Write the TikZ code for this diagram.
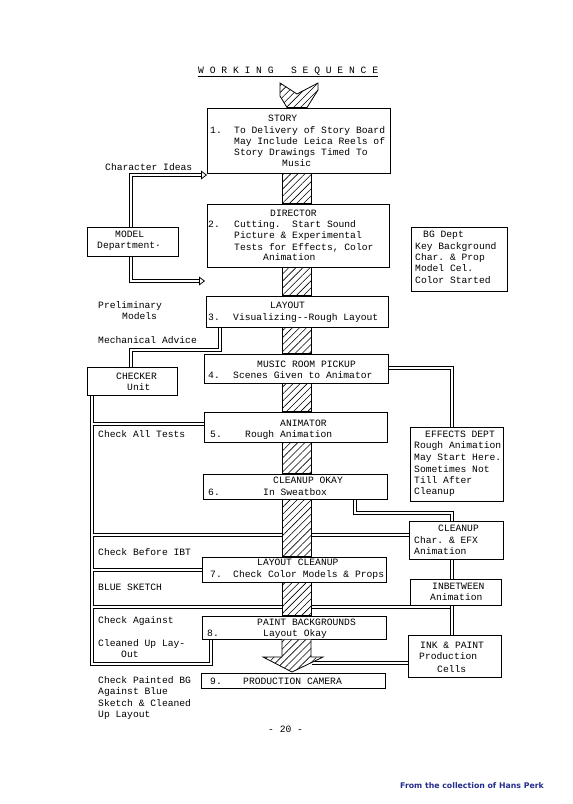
\documentclass[tikz,border=0pt]{standalone}
\usepackage{fontspec}
\setmonofont{Liberation Mono}
\newfontfamily\credfont{DejaVu Sans}
\usetikzlibrary{arrows.meta,patterns.meta}
\definecolor{credblue}{RGB}{35,45,140}
\tikzset{
  box/.style={draw, line width=1pt, fill=white, inner sep=0pt},
  link/.style={draw, double, double distance=2.2pt, line width=0.8pt},
  col/.style={draw, line width=0.8pt, preaction={fill=white},
    pattern={Lines[angle=45,distance=5pt,line width=0.6pt]}},
  txt/.style={font=\ttfamily\fontsize{9.67}{11.3}\selectfont, anchor=base west, inner sep=0pt},
  tip/.style={-{Triangle[open,length=6pt,width=9pt]}}
}
\begin{document}
\begin{tikzpicture}[x=1pt, y=-1pt]
    \useasboundingbox (0,0) rectangle (573,804);

    % Main column boxes
    \node[box, minimum width=183pt, minimum height=65pt] (story) at (298.5,140.5) {};
    \node[box, minimum width=182pt, minimum height=63pt] (director) at (298,235.5) {};
    \node[box, minimum width=182pt, minimum height=31pt] (layout) at (297,311.5) {};
    \node[box, minimum width=184pt, minimum height=29pt] (music) at (296,368.5) {};
    \node[box, minimum width=183pt, minimum height=30pt] (animator) at (295.5,427) {};
    \node[box, minimum width=184pt, minimum height=25pt] (cleanupok) at (295,486.5) {};
    \node[box, minimum width=184pt, minimum height=25pt] (laycleanup) at (294,569.5) {};
    \node[box, minimum width=184pt, minimum height=23pt] (paint) at (294,627.5) {};
    \node[box, minimum width=184pt, minimum height=15pt] (camera) at (293,680.5) {};

    % Side boxes
    \node[box, minimum width=91pt, minimum height=29pt] (model) at (132.5,241.5) {};
    \node[box, minimum width=90pt, minimum height=28pt] (checker) at (132,381) {};
    \node[box, minimum width=96pt, minimum height=64pt] (bgdept) at (459,259) {};
    \node[box, minimum width=93pt, minimum height=74pt] (effects) at (456.5,464) {};
    \node[box, minimum width=94pt, minimum height=38pt] (cleanup) at (456,540) {};
    \node[box, minimum width=91pt, minimum height=26pt] (inbetween) at (455.5,592) {};
    \node[box, minimum width=93pt, minimum height=42pt] (inkpaint) at (454.5,656) {};

    % Helper coordinates
    \coordinate (mx) at (131,0);
    \coordinate (lx) at (92,0);
    \coordinate (rx) at (452,0);
    \coordinate (layx) at (220,0);
    \coordinate (okx) at (355,0);
    \coordinate (px) at (211,0);
    \coordinate (cl) at (282,0);
    \coordinate (cr) at (311,0);
    \coordinate (my) at (0,368);
    \coordinate (mech) at (0,350);
    \coordinate (okdrop) at (0,513);
    \coordinate (bot) at (0,664);
    \coordinate (wing) at (0,657);
    \coordinate (storyin) at (207,175);
    \coordinate (modelto) at (205,281);
    \coordinate (inktip) at (312,663);

    % Double line connectors
    \draw[link, tip] (model.north -| mx) |- (storyin);
    \draw[link, tip] (model.south -| mx) |- (modelto);
    \draw[link] (layout.south -| layx) -- (layx |- mech) -| (checker.north -| mx);
    \draw[link] (checker.south -| lx) -- (lx |- bot) -- (bot -| px) -- (paint.south -| px);
    \foreach \y/\to in {424/animator, 535/cleanup, 570/laycleanup} {
        \coordinate (br) at (93,\y);
        \draw[link] (br) -- (br -| \to.west);
    }
    \coordinate (br) at (93,607);
    \draw[link] (br) -- (br -| rx);
    \draw[link] (music.east |- my) -| (effects.north -| rx);
    \draw[link] (cleanupok.south -| okx) -- (okx |- okdrop) -| (cleanup.north -| rx);
    \draw[link] (cleanup.south -| rx) -- (inbetween.north -| rx);
    \draw[link] (inbetween.south -| rx) -- (inkpaint.north -| rx);
    \draw[link] (inkpaint.west |- inktip) -- (inktip);

    % Hatched column
    \draw[col] (280,83) -- (297,94) -- (318,83) -- (318,90) -- (307,107.5) -- (287,107.5) -- (280,96) -- cycle;
    \foreach \a/\b in {story/director, director/layout, layout/music, music/animator,
                       animator/cleanupok, cleanupok/laycleanup, laycleanup/paint}
        \draw[col] (\a.south -| cl) rectangle (\b.north -| cr);
    \draw[col] (paint.south -| cl) -- (cl |- wing) -- (263,657) -- (292,672) -- (323,657)
        -- (cr |- wing) -- (paint.south -| cr);

    % Title
    \node[txt] (title) at (198,73) {W O R K I N G\ \ \ S E Q U E N C E};
    \draw[line width=0.6pt] ([yshift=-3pt]title.base west) -- ([yshift=-3pt]title.base east);

    % Typed texts
    \foreach \x/\y/\t [count=\i] in {
        268/121/STORY, 210/133/1., 234/133/To Delivery of Story Board,
        234/144/May Include Leica Reels of, 234/155/Story Drawings Timed To, 282/166/Music,
        105/170/Character Ideas,
        270/216/DIRECTOR, 208/227/2., 234/227/{Cutting.\ \ Start Sound},
        234/238/Picture \& Experimental, 234/250/{Tests for Effects, Color}, 263/260/Animation,
        115/237/MODEL, 97/248/Department·,
        423/237/BG Dept, 415/249/Key Background, 415/260/Char. \& Prop,
        415/271/Model Cel., 415/283/Color Started,
        98/308/Preliminary, 122/319/Models,
        270/308/LAYOUT, 208/320/3., 233/320/Visualizing--Rough Layout,
        98/343/Mechanical Advice,
        257/367/MUSIC ROOM PICKUP, 208/378/4., 233/378/Scenes Given to Animator,
        116/379/CHECKER, 127/390/Unit,
        280/426/ANIMATOR, 210/437/5., 245/437/Rough Animation,
        98/437/Check All Tests,
        425/437/EFFECTS DEPT, 414/448/Rough Animation, 414/460/May Start Here.,
        414/472/Sometimes Not, 414/483/Till After, 414/494/Cleanup,
        273/483/CLEANUP OKAY, 208/495/6., 263/495/In Sweatbox,
        438/531/CLEANUP, 414/543/Char. \& EFX, 414/554/Animation,
        98/555/Check Before IBT,
        257/565/LAYOUT CLEANUP, 210/577/7., 233/577/Check Color Models \& Props,
        98/590/BLUE SKETCH,
        432/589/INBETWEEN, 430/600/Animation,
        98/623/Check Against,
        257/625/PAINT BACKGROUNDS, 207/636/8., 263/636/Layout Okay,
        98/646/Cleaned Up Lay-, 121/657/Out,
        420/648/INK \& PAINT, 419/659/Production, 437/672/Cells,
        210/684/9., 243/684/PRODUCTION CAMERA,
        98/683/Check Painted BG, 98/694/Against Blue, 98/706/Sketch \& Cleaned, 98/717/Up Layout,
        268/732/- 20 -}
        \node[txt] (t\i) at (\x,\y) {\t};

    % Credit line
    \node[font=\credfont\bfseries\fontsize{7.8}{9}\selectfont, text=credblue, anchor=base west,
        inner sep=0pt] (credit) at (400,788) {From the collection of Hans Perk};
\end{tikzpicture}
\end{document}
